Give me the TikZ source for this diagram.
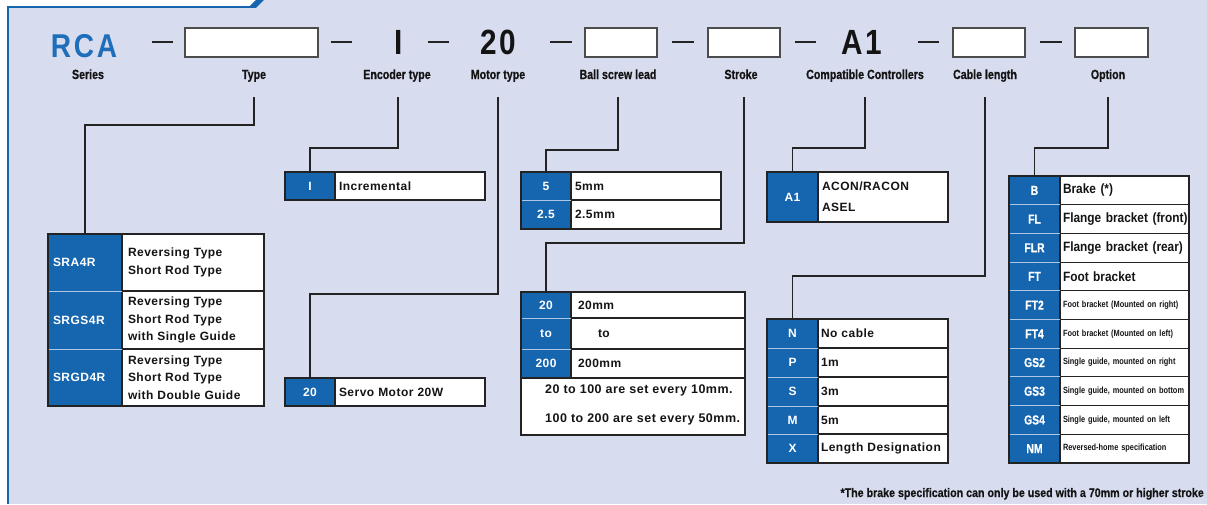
\documentclass[tikz,border=0pt]{standalone}
\usepackage{fontspec}
\setmainfont{Liberation Sans}
\newfontfamily\lblf{Liberation Sans}[FakeStretch=0.8,FakeBold=0.6]
\newfontfamily\optf{Liberation Sans}[FakeStretch=0.88]
\newfontfamily\ftf{Liberation Sans}[FakeStretch=0.86,FakeBold=0.4]
\newfontfamily\smlf{Liberation Sans}[FakeStretch=0.82]
\newfontfamily\tabf{Liberation Sans}[LetterSpace=4]
\newfontfamily\bigf{Liberation Sans}[FakeStretch=0.85,LetterSpace=8]
\definecolor{bg}{RGB}{216,220,239}
\definecolor{cblue}{RGB}{22,101,175}
\definecolor{rcab}{RGB}{30,110,185}
\definecolor{edge}{RGB}{35,35,35}
\definecolor{sepc}{RGB}{175,198,230}
\definecolor{txt}{RGB}{20,20,20}
\begin{document}
\begin{tikzpicture}[x=1pt,y=-1pt,
  hbox/.style={draw=black!70, line width=1.5pt, fill=white, minimum height=29pt, inner sep=0pt, outer sep=0pt},
  dashl/.style={draw=edge, line width=1.4pt},
  lbl/.style={anchor=base, inner sep=0pt, text=txt, font=\lblf\bfseries\fontsize{13.3}{13}\selectfont},
  big/.style={anchor=base, inner sep=0pt, text=txt, font=\bigf\bfseries\fontsize{35}{35}\selectfont},
  bcl/.style={fill=cblue, text=white, anchor=north west, inner xsep=5pt, inner ysep=0pt, outer sep=0pt, align=left, font=\tabf\bfseries\fontsize{12}{17.5}\selectfont},
  bcc/.style={fill=cblue, text=white, anchor=north west, inner xsep=0pt, inner ysep=0pt, outer sep=0pt, align=center, font=\tabf\bfseries\fontsize{12}{17.5}\selectfont},
  bco/.style={bcc, font=\lblf\bfseries\fontsize{13}{13}\selectfont},
  wcl/.style={draw=edge, line width=1.1pt, fill=white, text=txt, anchor=north west, inner ysep=0pt, outer sep=0pt, align=left, font=\tabf\bfseries\fontsize{12}{17.5}\selectfont},
  wbig/.style={wcl, font=\optf\bfseries\fontsize{13.5}{14}\selectfont},
  wsml/.style={wcl, font=\smlf\bfseries\fontsize{9}{10}\selectfont},
  sepl/.style={draw=sepc, line width=1pt},
  tbord/.style={draw=edge, line width=1.4pt},
  conn/.style={draw=edge, line width=1.1pt}]
\useasboundingbox (0,0) rectangle (1207,504);
% frame
\fill[white] (0,0) rectangle (1207,504);
\fill[bg] (8,0) rectangle (1207,504);
\fill[white] (0,0) -- (258,0) -- (251,7) -- (0,7) -- cycle;
\draw[cblue, line width=1.5pt] (8,7) -- (252,7);
\fill[cblue] (248,7.8) -- (256,7.8) -- (264,0) -- (256,0) -- cycle;
\draw[cblue, line width=2pt] (8,6.3) -- (8,504);
% header row
\node[anchor=base, inner sep=0pt, text=rcab, font=\bigf\bfseries\fontsize{33}{33}\selectfont] (rca) at (84,57) {RCA};
\node[hbox, minimum width=133pt] (typeB) at (251.5,42.5) {};
\node[big] (encI) at (398.5,54) {I};
\node[big] (mot20) at (498,54) {20};
\node[hbox, minimum width=72pt] (ballB) at (621,42.5) {};
\node[hbox, minimum width=72pt] (strB) at (744,42.5) {};
\node[big] (cmpA) at (862,54) {A1};
\node[hbox, minimum width=72pt] (cabB) at (989,42.5) {};
\node[hbox, minimum width=73pt] (optB) at (1111.5,42.5) {};
\draw[dashl] (152,42) -- (173,42);
\draw[dashl] (331,42) -- (352,42);
\draw[dashl] (428,42) -- (449,42);
\draw[dashl] (550,42) -- (572,42);
\draw[dashl] (672,42) -- (694,42);
\draw[dashl] (795,42) -- (816,42);
\draw[dashl] (918,42) -- (939,42);
\draw[dashl] (1040,42) -- (1062,42);
% labels
\node[lbl] (seriesL) at (88,79) {Series};
\node[lbl] (typeL) at (254,79) {Type};
\node[lbl] (encL) at (397,79) {Encoder type};
\node[lbl] (motL) at (498,79) {Motor type};
\node[lbl] (ballL) at (618,79) {Ball screw lead};
\node[lbl] (strL) at (741,79) {Stroke};
\node[lbl] (cmpL) at (865,79) {Compatible Controllers};
\node[lbl] (cabL) at (985,79) {Cable length};
\node[lbl] (optL) at (1108,79) {Option};
% Type table
\node[bcl, text width=64pt, minimum height=57pt] (sra) at (48,234) {SRA4R};
\node[wcl, inner xsep=6pt, text width=130pt, minimum height=57pt] (srat) at (sra.north east) {\mbox{Reversing Type}\\\mbox{Short Rod Type}};
\node[bcl, text width=64pt, minimum height=58pt] (srgs) at (sra.south west) {SRGS4R};
\node[wcl, inner xsep=6pt, text width=130pt, minimum height=58pt] (srgst) at (srgs.north east) {\mbox{Reversing Type}\\\mbox{Short Rod Type}\\\mbox{with Single Guide}};
\node[bcl, text width=64pt, minimum height=57pt] (srgd) at (srgs.south west) {SRGD4R};
\node[wcl, inner xsep=6pt, text width=130pt, minimum height=57pt] (srgdt) at (srgd.north east) {\mbox{Reversing Type}\\\mbox{Short Rod Type}\\\mbox{with Double Guide}};
\draw[sepl] (sra.south west) -- (sra.south east);
\draw[sepl] (srgs.south west) -- (srgs.south east);
\draw[tbord] (sra.north west) rectangle (srgdt.south east);
% Encoder table
\node[bcc, text width=50pt, minimum height=28pt] (encI1) at (285,172) {I};
\node[wcl, inner xsep=4pt, text width=142pt, minimum height=28pt] (encIt) at (encI1.north east) {\mbox{Incremental}};
\draw[tbord] (encI1.north west) rectangle (encIt.south east);
% Motor table
\node[bcc, text width=50pt, minimum height=28pt] (m20) at (285,378) {20};
\node[wcl, inner xsep=4pt, text width=142pt, minimum height=28pt] (m20t) at (m20.north east) {\mbox{Servo Motor 20W}};
\draw[tbord] (m20.north west) rectangle (m20t.south east);
% Ball screw table
\node[bcc, text width=50pt, minimum height=28pt] (b5) at (521,172) {5};
\node[wcl, inner xsep=4pt, text width=142pt, minimum height=28pt] (b5t) at (b5.north east) {\mbox{5mm}};
\node[bcc, text width=50pt, minimum height=29pt] (b25) at (b5.south west) {2.5};
\node[wcl, inner xsep=4pt, text width=142pt, minimum height=29pt] (b25t) at (b25.north east) {\mbox{2.5mm}};
\draw[sepl] (b5.south west) -- (b5.south east);
\draw[tbord] (b5.north west) rectangle (b25t.south east);
% Stroke table
\node[bcc, text width=50pt, minimum height=26pt] (s20) at (521,292) {20};
\node[wcl, inner xsep=7pt, text width=160pt, minimum height=26pt] (s20t) at (s20.north east) {\mbox{20mm}};
\node[bcc, text width=50pt, minimum height=31pt] (sto) at (s20.south west) {to};
\node[wcl, inner xsep=7pt, text width=160pt, minimum height=31pt] (stot) at (sto.north east) {\mbox{\hspace*{20pt}to}};
\node[bcc, text width=50pt, minimum height=29pt] (s200) at (sto.south west) {200};
\node[wcl, inner xsep=7pt, text width=160pt, minimum height=29pt] (s200t) at (s200.north east) {\mbox{200mm}};
\node[wcl, minimum width=224pt, minimum height=57pt, inner xsep=0pt] (snote) at (s200.south west) {};
\node[anchor=west, inner sep=0pt, align=left, text=txt, font=\tabf\bfseries\fontsize{12.5}{29}\selectfont] (snotet) at (545,405) {\mbox{20 to 100 are set every 10mm.}\\\mbox{100 to 200 are set every 50mm.}};
\draw[sepl] (s20.south west) -- (s20.south east);
\draw[sepl] (sto.south west) -- (sto.south east);
\draw[tbord] (s20.north west) rectangle (snote.south east);
% Compatible controllers table
\node[bcc, text width=51pt, minimum height=50pt] (ca1) at (767,172) {A1};
\node[wcl, inner xsep=4pt, text width=122pt, minimum height=50pt, font=\tabf\bfseries\fontsize{12}{21}\selectfont] (ca1t) at (ca1.north east) {\mbox{ACON/RACON}\\\mbox{ASEL}};
\draw[tbord] (ca1.north west) rectangle (ca1t.south east);
% Cable table
\node[bcc, text width=51pt, minimum height=29pt] (cN) at (767,319) {N};
\node[wcl, inner xsep=3pt, text width=124pt, minimum height=29pt] (cNt) at (cN.north east) {\mbox{No cable}};
\node[bcc, text width=51pt, minimum height=29pt] (cP) at (cN.south west) {P};
\node[wcl, inner xsep=3pt, text width=124pt, minimum height=29pt] (cPt) at (cP.north east) {\mbox{1m}};
\node[bcc, text width=51pt, minimum height=29pt] (cS) at (cP.south west) {S};
\node[wcl, inner xsep=3pt, text width=124pt, minimum height=29pt] (cSt) at (cS.north east) {\mbox{3m}};
\node[bcc, text width=51pt, minimum height=28pt] (cM) at (cS.south west) {M};
\node[wcl, inner xsep=3pt, text width=124pt, minimum height=28pt] (cMt) at (cM.north east) {\mbox{5m}};
\node[bcc, text width=51pt, minimum height=29pt] (cX) at (cM.south west) {X};
\node[wcl, inner xsep=3pt, text width=124pt, minimum height=29pt] (cXt) at (cX.north east) {\mbox{Length Designation}};
\foreach \c in {cN,cP,cS,cM} \draw[sepl] (\c.south west) -- (\c.south east);
\draw[tbord] (cN.north west) rectangle (cXt.south east);
% Option table
\node[bco, text width=51pt, minimum height=28.7pt] (oB) at (1009,176) {B};
\node[wbig, inner xsep=3pt, text width=123pt, minimum height=28.7pt] (oBt) at (oB.north east) {\mbox{Brake (*)}};
\node[bco, text width=51pt, minimum height=28.7pt] (oFL) at (oB.south west) {FL};
\node[wbig, inner xsep=3pt, text width=123pt, minimum height=28.7pt] (oFLt) at (oFL.north east) {\mbox{Flange bracket (front)}};
\node[bco, text width=51pt, minimum height=28.7pt] (oFLR) at (oFL.south west) {FLR};
\node[wbig, inner xsep=3pt, text width=123pt, minimum height=28.7pt] (oFLRt) at (oFLR.north east) {\mbox{Flange bracket (rear)}};
\node[bco, text width=51pt, minimum height=28.7pt] (oFT) at (oFLR.south west) {FT};
\node[wbig, inner xsep=3pt, text width=123pt, minimum height=28.7pt] (oFTt) at (oFT.north east) {\mbox{Foot bracket}};
\node[bco, text width=51pt, minimum height=28.7pt] (oFT2) at (oFT.south west) {FT2};
\node[wsml, inner xsep=3pt, text width=123pt, minimum height=28.7pt] (oFT2t) at (oFT2.north east) {\mbox{Foot bracket (Mounted on right)}};
\node[bco, text width=51pt, minimum height=28.7pt] (oFT4) at (oFT2.south west) {FT4};
\node[wsml, inner xsep=3pt, text width=123pt, minimum height=28.7pt] (oFT4t) at (oFT4.north east) {\mbox{Foot bracket (Mounted on left)}};
\node[bco, text width=51pt, minimum height=28.7pt] (oGS2) at (oFT4.south west) {GS2};
\node[wsml, inner xsep=3pt, text width=123pt, minimum height=28.7pt] (oGS2t) at (oGS2.north east) {\mbox{Single guide, mounted on right}};
\node[bco, text width=51pt, minimum height=28.7pt] (oGS3) at (oGS2.south west) {GS3};
\node[wsml, inner xsep=3pt, text width=123pt, minimum height=28.7pt] (oGS3t) at (oGS3.north east) {\mbox{Single guide, mounted on bottom}};
\node[bco, text width=51pt, minimum height=28.7pt] (oGS4) at (oGS3.south west) {GS4};
\node[wsml, inner xsep=3pt, text width=123pt, minimum height=28.7pt] (oGS4t) at (oGS4.north east) {\mbox{Single guide, mounted on left}};
\node[bco, text width=51pt, minimum height=28.7pt] (oNM) at (oGS4.south west) {NM};
\node[wsml, inner xsep=3pt, text width=123pt, minimum height=28.7pt] (oNMt) at (oNM.north east) {\mbox{Reversed-home specification}};
\foreach \c in {oB,oFL,oFLR,oFT,oFT2,oFT4,oGS2,oGS3,oGS4} \draw[sepl] (\c.south west) -- (\c.south east);
\draw[tbord] (oB.north west) rectangle (oNMt.south east);
% connectors
\coordinate (typeC) at (254,97);
\coordinate (encC) at (398,97);
\coordinate (motC) at (498,97);
\coordinate (ballC) at (618,97);
\coordinate (strC) at (744,97);
\coordinate (cmpC) at (865,97);
\coordinate (cabC) at (985,97);
\coordinate (optC) at (1108,97);
\draw[conn] (typeC) -- ++(0,28) -| (sra.north);
\draw[conn] (encC) -- ++(0,51) -| (encI1.north);
\draw[conn] (motC) -- ++(0,197) -| (m20.north);
\draw[conn] (ballC) -- ++(0,53) -| (b5.north);
\draw[conn] (strC) -- ++(0,146) -| (s20.north);
\draw[conn] (cmpC) -- ++(0,51) -| (ca1.north);
\draw[conn] (cabC) -- ++(0,179) -| (cN.north);
\draw[conn] (optC) -- ++(0,51) -| (oB.north);
% footnote
\node[anchor=base east, inner sep=0pt, text=txt, font=\ftf\bfseries\fontsize{12.4}{12}\selectfont] (foot) at (1204,497) {*The brake specification can only be used with a 70mm or higher stroke};
\end{tikzpicture}
\end{document}
